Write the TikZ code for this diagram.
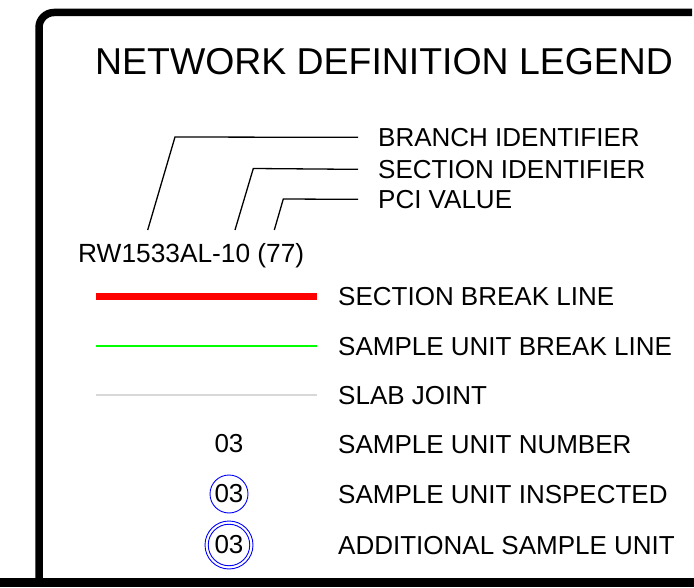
\documentclass[tikz,border=0pt]{standalone}
\usepackage{fontspec}
\setmainfont{Liberation Sans}
\usepackage{xcolor}
\definecolor{breakred}{RGB}{255,0,0}
\definecolor{unitgreen}{RGB}{0,255,0}
\definecolor{jointgray}{RGB}{216,216,216}
\newcommand{\lbl}{\fontsize{26}{30}\selectfont}

\begin{document}
\begin{tikzpicture}[x=1pt,y=-1pt,
    legtext/.style={anchor=base west,inner sep=0pt,font=\lbl},
    leader/.style={line width=1.3pt},
    unitnum/.style={circle,inner sep=0pt,minimum size=38pt,font=\lbl,line width=0.9pt}]
            \useasboundingbox (0,0) rectangle (694,588);
            % frame
            \draw[line width=7.5pt,rounded corners=15pt] (39,582) -- (39,12.5) -- (692,12.5);
            \draw[line width=9pt] (0,582) -- (694,582);
            \node[anchor=base west,inner sep=0pt,font=\fontsize{37.4}{42}\selectfont] (title) at (95,75) {NETWORK DEFINITION LEGEND};

            % identifier callouts
            \node[anchor=base west,inner sep=0pt,font=\fontsize{26.3}{30}\selectfont] (ident) at (78,263) {RW1533AL-10 (77)};
            \node[legtext] (branch) at (378,146.3) {BRANCH IDENTIFIER};
            \node[legtext] (section) at (378,178.3) {SECTION IDENTIFIER};
            \node[legtext] (pci) at (378,208.3) {PCI VALUE};
            \draw[leader] (147.7,230) -- (175,137) -- ([xshift=-20pt]branch.west);
            \draw[leader] (235,230) -- (253.3,168.5) -- ([xshift=-20pt]section.west);
            \draw[leader] (274.3,230) -- (283.3,199) -- ([xshift=-20pt]pci.west);

            % lines
            \node[legtext] (sbreak) at (338,305.3) {SECTION BREAK LINE};
            \node[legtext] (ubreak) at (338,355.3) {SAMPLE UNIT BREAK LINE};
            \node[legtext] (slab) at (338,404.3) {SLAB JOINT};
            \draw[breakred,line width=7pt] ([xshift=-21pt]sbreak.west) -- ++(-221,0);
            \draw[unitgreen,line width=2pt] ([xshift=-21pt]ubreak.west) -- ++(-221,0);
            \draw[jointgray,line width=2pt] ([xshift=-21pt]slab.west) -- ++(-221,0);

            % sample units
            \node[legtext] (unitno) at (338,453.3) {SAMPLE UNIT NUMBER};
            \node[legtext] (inspected) at (338,503.3) {SAMPLE UNIT INSPECTED};
            \node[legtext] (addl) at (338,554.3) {ADDITIONAL SAMPLE UNIT};
            \node[unitnum] (num) at (229,444) {03};
            \node[unitnum,draw=blue] (insp) at (229,494) {03};
            \node[unitnum,draw=blue,minimum size=41.5pt] (extra) at (229,545) {03};
            \draw[blue,line width=0.9pt] (extra.center) circle (24pt);
        \end{tikzpicture}
\end{document}
